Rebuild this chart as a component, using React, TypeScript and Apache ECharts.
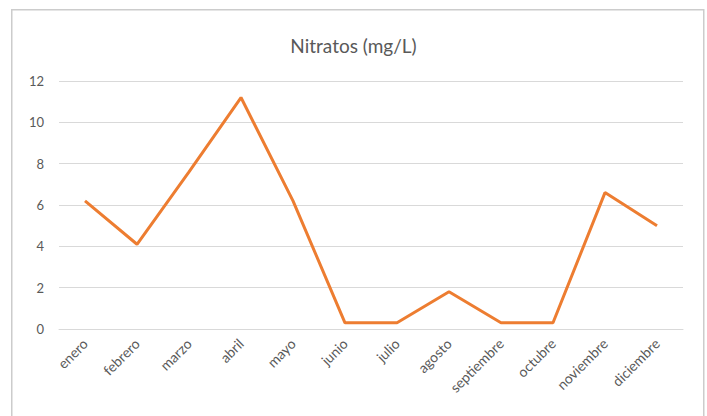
import React, { useEffect, useRef } from "react";
import * as echarts from "echarts";

const months = ["enero", "febrero", "marzo", "abril", "mayo", "junio", "julio", "agosto", "septiembre", "octubre", "noviembre", "diciembre"];
const nitratos = [6.2, 4.1, 7.6, 11.2, 6.2, 0.3, 0.3, 1.8, 0.3, 0.3, 6.6, 5.0];
const yTicks = { min: 0, max: 12, interval: 2 };

export default function App() {
  const ref = useRef<HTMLDivElement>(null);
  useEffect(() => {
    if (!ref.current) return;
    const chart = echarts.init(ref.current, undefined, { renderer: "svg" });
    chart.setOption({
      animation: false,
      backgroundColor: "#ffffff",
      textStyle: { fontFamily: "Lato, 'Open Sans', sans-serif" },
      graphic: [
        {
          type: "rect",
          left: 11,
          top: 9,
          z: 100,
          shape: { width: 692, height: 430 },
          style: { fill: "transparent", stroke: "#CCCCCC", lineWidth: 1.5 },
          silent: true,
        },
      ],
      title: {
        text: "Nitratos (mg/L)",
        left: "center",
        top: 31,
        textStyle: { fontSize: 19, fontWeight: "normal", color: "#595959", fontFamily: "Lato, sans-serif" },
      },
      grid: { left: 59, right: 24, top: 81, bottom: 87 },
      xAxis: {
        type: "category",
        data: months,
        boundaryGap: true,
        axisLine: { lineStyle: { color: "#D9D9D9", width: 1 } },
        axisTick: { show: false },
        axisLabel: { rotate: 45, color: "#595959", fontSize: 14, margin: 12, interval: 0, fontFamily: "Lato, sans-serif" },
      },
      yAxis: {
        type: "value",
        min: yTicks.min,
        max: yTicks.max,
        interval: yTicks.interval,
        axisLine: { show: false },
        axisTick: { show: false },
        splitLine: { lineStyle: { color: "#D9D9D9", width: 1 } },
        axisLabel: { color: "#595959", fontSize: 13, margin: 15, fontFamily: "Lato, sans-serif" },
      },
      series: [
        {
          type: "line",
          data: nitratos,
          symbol: "none",
          lineStyle: { color: "#ED7D31", width: 3 },
          itemStyle: { color: "#ED7D31" },
        },
      ],
    });
    return () => chart.dispose();
  }, []);
  return <div ref={ref} style={{ position: "fixed", left: 0, top: 0, width: 707, height: 416 }} />;
}
